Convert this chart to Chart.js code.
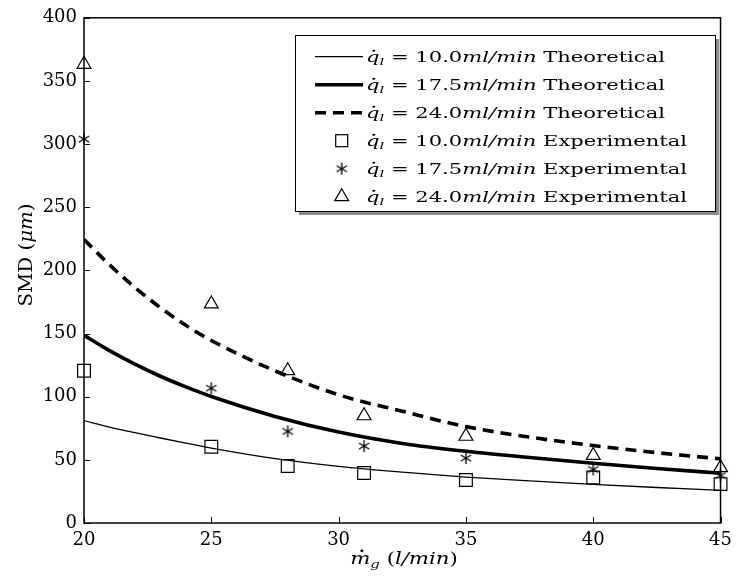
<!DOCTYPE html>
<html lang="en">
<head>
<meta charset="UTF-8" />
<title>SMD vs gas flow</title>
<script src="https://cdn.jsdelivr.net/npm/chart.js"></script>
<style>
  body { margin: 0; background: #fff; }
</style>
</head>
<body>
<canvas id="smdChart" width="739" height="581"></canvas>
<script>
const FONT = "DejaVu Serif";

// measured points (gas flow, l/min)
const expX = [20, 25, 28, 31, 35, 40, 45];
const exp10 = [120.5, 60.4, 45.1, 39.6, 34.1, 36.0, 30.8];
const exp175 = [303.9, 106.7, 72.5, 60.9, 51.4, 42.4, 37.6];
const exp24 = [363.2, 173.5, 120.6, 84.9, 68.7, 53.5, 43.8];

// theoretical curves
const theoX = [20, 21, 22, 23, 24, 25, 27.5, 30, 32.5, 35, 37.5, 40, 42.5, 45];
const theo10 = [81.0, 76.0, 71.5, 67.3, 63.2, 59.3, 51.0, 44.9, 40.3, 36.4, 33.3, 30.6, 28.1, 25.8];
const theo175 = [148.6, 136.5, 125.8, 116.2, 107.8, 100.2, 84.4, 72.0, 63.0, 56.8, 51.8, 47.3, 43.2, 39.4];
const theo24 = [224.4, 204.5, 186.5, 170.5, 156.5, 144.5, 120.5, 101.5, 88.5, 76.3, 68.0, 61.3, 55.7, 50.8];

const flowLabels = ["10.0", "17.5", "24.0"];

function pts(xs, ys) {
  return xs.map((x, i) => ({ x: x, y: ys[i] }));
}

// six-spoke asterisk marker
function makeAsterisk(size) {
  const c = document.createElement("canvas");
  c.width = size;
  c.height = size;
  const g = c.getContext("2d");
  g.strokeStyle = "#000";
  g.lineWidth = 1.3;
  const r = size / 2 - 1;
  const m = size / 2;
  g.beginPath();
  for (let k = 0; k < 3; k++) {
    const a = Math.PI / 2 + k * Math.PI / 3;
    g.moveTo(m + Math.cos(a) * r, m + Math.sin(a) * r);
    g.lineTo(m - Math.cos(a) * r, m - Math.sin(a) * r);
  }
  g.stroke();
  return c;
}
const asterisk = makeAsterisk(14);

// text with italic / subscript / dotted pieces
function drawRich(ctx, parts, x, y, size, sx) {
  ctx.save();
  ctx.translate(x, y);
  ctx.scale(sx, 1);
  let cx = 0;
  for (const p of parts) {
    const s = p.sub ? size * 0.7 : size;
    ctx.font = (p.it ? "italic " : "") + s + "px " + FONT;
    const dy = p.sub ? size * 0.25 : 0;
    ctx.fillText(p.t, cx, dy);
    const w = ctx.measureText(p.t).width;
    if (p.dot) {
      ctx.beginPath();
      ctx.arc(cx + w * 0.58, -size * 0.78, size * 0.075, 0, 2 * Math.PI);
      ctx.fill();
    }
    cx += w;
  }
  ctx.restore();
  return cx * sx;
}
function richWidth(ctx, parts, size) {
  let w = 0;
  for (const p of parts) {
    const s = p.sub ? size * 0.7 : size;
    ctx.font = (p.it ? "italic " : "") + s + "px " + FONT;
    w += ctx.measureText(p.t).width;
  }
  return w;
}

const decorPlugin = {
  id: "decor",
  afterDraw(chart) {
    const ctx = chart.ctx;
    const a = chart.chartArea;
    const xs = chart.scales.x;
    const ys = chart.scales.y;
    ctx.save();
    ctx.fillStyle = "#000";
    ctx.strokeStyle = "#000";

    // frame
    ctx.lineWidth = 1.5;
    ctx.strokeRect(a.left, a.top, a.right - a.left, a.bottom - a.top);

    // inward ticks
    ctx.lineWidth = 1;
    ctx.beginPath();
    xs.ticks.forEach(t => {
      const px = Math.round(xs.getPixelForValue(t.value)) + 0.5;
      ctx.moveTo(px, a.bottom);
      ctx.lineTo(px, a.bottom - 6);
    });
    ys.ticks.forEach(t => {
      const py = Math.round(ys.getPixelForValue(t.value)) + 0.5;
      ctx.moveTo(a.left, py);
      ctx.lineTo(a.left + 6, py);
    });
    ctx.stroke();

    // x title
    const xt = [{ t: "m", it: 1, dot: 1 }, { t: "g", it: 1, sub: 1 }, { t: " (" }, { t: "l/min", it: 1 }, { t: ")" }];
    const xw = richWidth(ctx, xt, 17) * 1.25;
    drawRich(ctx, xt, 404 - xw / 2, 564, 17, 1.25);

    // y title
    const yt = [{ t: "SMD (" }, { t: "μm", it: 1 }, { t: ")" }];
    const yw = richWidth(ctx, yt, 18) * 1.1;
    ctx.save();
    ctx.translate(32, 255);
    ctx.rotate(-Math.PI / 2);
    drawRich(ctx, yt, -yw / 2, 0, 18, 1.1);
    ctx.restore();

    // legend box
    const L = 295, T = 35, R = 715, B = 211;
    ctx.fillStyle = "#8a8a8a";
    ctx.fillRect(L + 4, T + 4, R - L, B - T);
    ctx.fillStyle = "#fff";
    ctx.fillRect(L, T, R - L, B - T);
    ctx.lineWidth = 1;
    ctx.strokeStyle = "#000";
    ctx.strokeRect(L + 0.5, T + 0.5, R - L, B - T);

    const ds = chart.data.datasets;
    ctx.fillStyle = "#000";
    for (let i = 0; i < 6; i++) {
      const cy = 56.7 + 28 * i;
      const d = ds[i];
      ctx.save();
      ctx.strokeStyle = "#000";
      if (i < 3) {
        ctx.lineWidth = d.borderWidth;
        ctx.setLineDash(d.borderDash || []);
        ctx.beginPath();
        ctx.moveTo(315, cy);
        ctx.lineTo(363, cy);
        ctx.stroke();
      } else if (d.pointStyle === "rect") {
        ctx.lineWidth = 1.2;
        ctx.strokeRect(341.7 - 6, cy - 6, 12, 12);
      } else if (d.pointStyle === "triangle") {
        ctx.lineWidth = 1.2;
        const r = 8;
        ctx.beginPath();
        ctx.moveTo(341.7, cy - r);
        ctx.lineTo(341.7 + r * 0.866, cy + r / 2);
        ctx.lineTo(341.7 - r * 0.866, cy + r / 2);
        ctx.closePath();
        ctx.stroke();
      } else {
        ctx.drawImage(asterisk, 341.7 - 7, cy - 7);
      }
      ctx.restore();
      const parts = [
        { t: "q", it: 1, dot: 1 }, { t: "l", it: 1, sub: 1 },
        { t: " = " + flowLabels[i % 3] }, { t: "ml/min", it: 1 },
        { t: i < 3 ? " Theoretical" : " Experimental" }
      ];
      const target = i < 3 ? 299 : 321;
      const sx = target / richWidth(ctx, parts, 14);
      drawRich(ctx, parts, 366, cy + 5, 14, sx);
    }
    ctx.restore();
  }
};

new Chart(document.getElementById("smdChart"), {
  type: "scatter",
  data: {
    datasets: [
      { data: pts(theoX, theo10), showLine: true, borderColor: "#000", borderWidth: 1.3, pointRadius: 0, cubicInterpolationMode: "monotone" },
      { data: pts(theoX, theo175), showLine: true, borderColor: "#000", borderWidth: 3.6, pointRadius: 0, cubicInterpolationMode: "monotone" },
      { data: pts(theoX, theo24), showLine: true, borderColor: "#000", borderWidth: 3.6, borderDash: [11, 7], pointRadius: 0, cubicInterpolationMode: "monotone" },
      { data: pts(expX, exp10), showLine: false, pointStyle: "rect", pointRadius: 9, pointBorderWidth: 1.2, pointBorderColor: "#000", pointBackgroundColor: "rgba(0,0,0,0)", clip: false },
      { data: pts(expX, exp175), showLine: false, pointStyle: asterisk, pointRadius: 7, clip: false },
      { data: pts(expX, exp24), showLine: false, pointStyle: "triangle", pointRadius: 8, pointBorderWidth: 1.2, pointBorderColor: "#000", pointBackgroundColor: "rgba(0,0,0,0)", clip: false }
    ]
  },
  options: {
    responsive: false,
    animation: false,
    layout: { padding: { left: 0, right: 11, top: 16, bottom: 0 } },
    plugins: { legend: { display: false }, tooltip: { enabled: false } },
    scales: {
      x: {
        type: "linear", min: 20, max: 45,
        grid: { display: false, drawTicks: false },
        border: { display: false },
        ticks: { stepSize: 5, color: "#000", padding: 7, font: { family: FONT, size: 18 } },
        afterFit(s) { s.height = 58; }
      },
      y: {
        min: 0, max: 400,
        grid: { display: false, drawTicks: false },
        border: { display: false },
        ticks: { stepSize: 50, color: "#000", padding: 7, font: { family: FONT, size: 18 } },
        afterFit(s) { s.width = 84; }
      }
    }
  },
  plugins: [decorPlugin]
});
</script>
</body>
</html>
